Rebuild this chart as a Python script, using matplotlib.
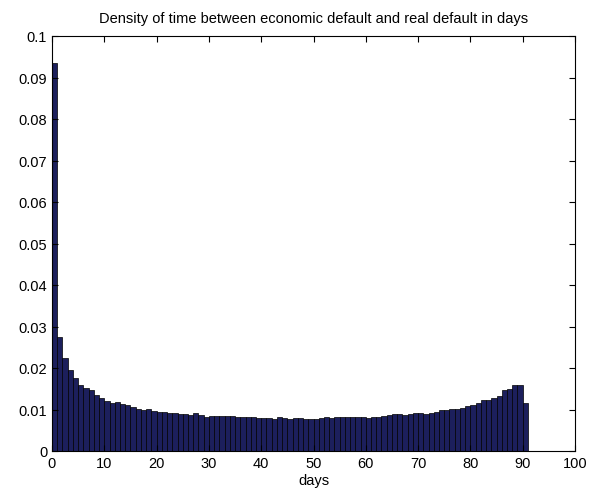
import numpy as np
import matplotlib
matplotlib.use("Agg")
import matplotlib.pyplot as plt
from matplotlib.ticker import FormatStrFormatter

plt.rcParams["font.family"] = ["Liberation Sans", "DejaVu Sans"]

# density per day bin (day 0..91)
bin_edges = np.arange(0, 92)
density = [
    0.0935, 0.0275, 0.0225, 0.0195, 0.0177, 0.0160, 0.0152, 0.0147, 0.0135, 0.0127,
    0.0121, 0.0116, 0.0117, 0.0114, 0.0110, 0.0106, 0.0102, 0.0099, 0.0102, 0.0097,
    0.0093, 0.0093, 0.0091, 0.0092, 0.0090, 0.0088, 0.0087, 0.0091, 0.0086, 0.0083,
    0.0085, 0.0084, 0.0085, 0.0084, 0.0084, 0.0083, 0.0082, 0.0083, 0.0081, 0.0080,
    0.0079, 0.0080, 0.0078, 0.0081, 0.0079, 0.0077, 0.0079, 0.0080, 0.0076, 0.0078,
    0.0077, 0.0079, 0.0081, 0.0080, 0.0082, 0.0081, 0.0082, 0.0083, 0.0082, 0.0081,
    0.0080, 0.0081, 0.0082, 0.0084, 0.0086, 0.0088, 0.0089, 0.0087, 0.0090, 0.0092,
    0.0091, 0.0089, 0.0092, 0.0095, 0.0098, 0.0100, 0.0102, 0.0101, 0.0104, 0.0108,
    0.0111, 0.0115, 0.0123, 0.0124, 0.0128, 0.0133, 0.0146, 0.0150, 0.0158, 0.0160,
    0.0115,
]
x_ticks = np.arange(0, 101, 10)
y_ticks = np.arange(0, 0.101, 0.01)

fig = plt.figure(figsize=(5.96, 5.02), dpi=100, facecolor="white")
ax = fig.add_axes([52 / 596, 1 - 452 / 502, 523 / 596, 415 / 502])

ax.bar(bin_edges[:-1], density, width=1.0, align="edge",
       color="#1c1f5c", edgecolor="black", linewidth=0.5)

ax.set_xlim(0, 100)
ax.set_ylim(0, 0.1)
ax.set_xticks(x_ticks)
ax.set_yticks(y_ticks)
ax.yaxis.set_major_formatter(FormatStrFormatter("%g"))
ax.tick_params(direction="in", top=True, right=True, labelsize=10.5, length=4)
for s in ax.spines.values():
    s.set_linewidth(0.8)

ax.set_xlabel("days", fontsize=10.5, labelpad=2)
ax.set_title("Density of time between economic default and real default in days",
             fontsize=10.5, pad=10)

fig.savefig("out.png", dpi=100)
